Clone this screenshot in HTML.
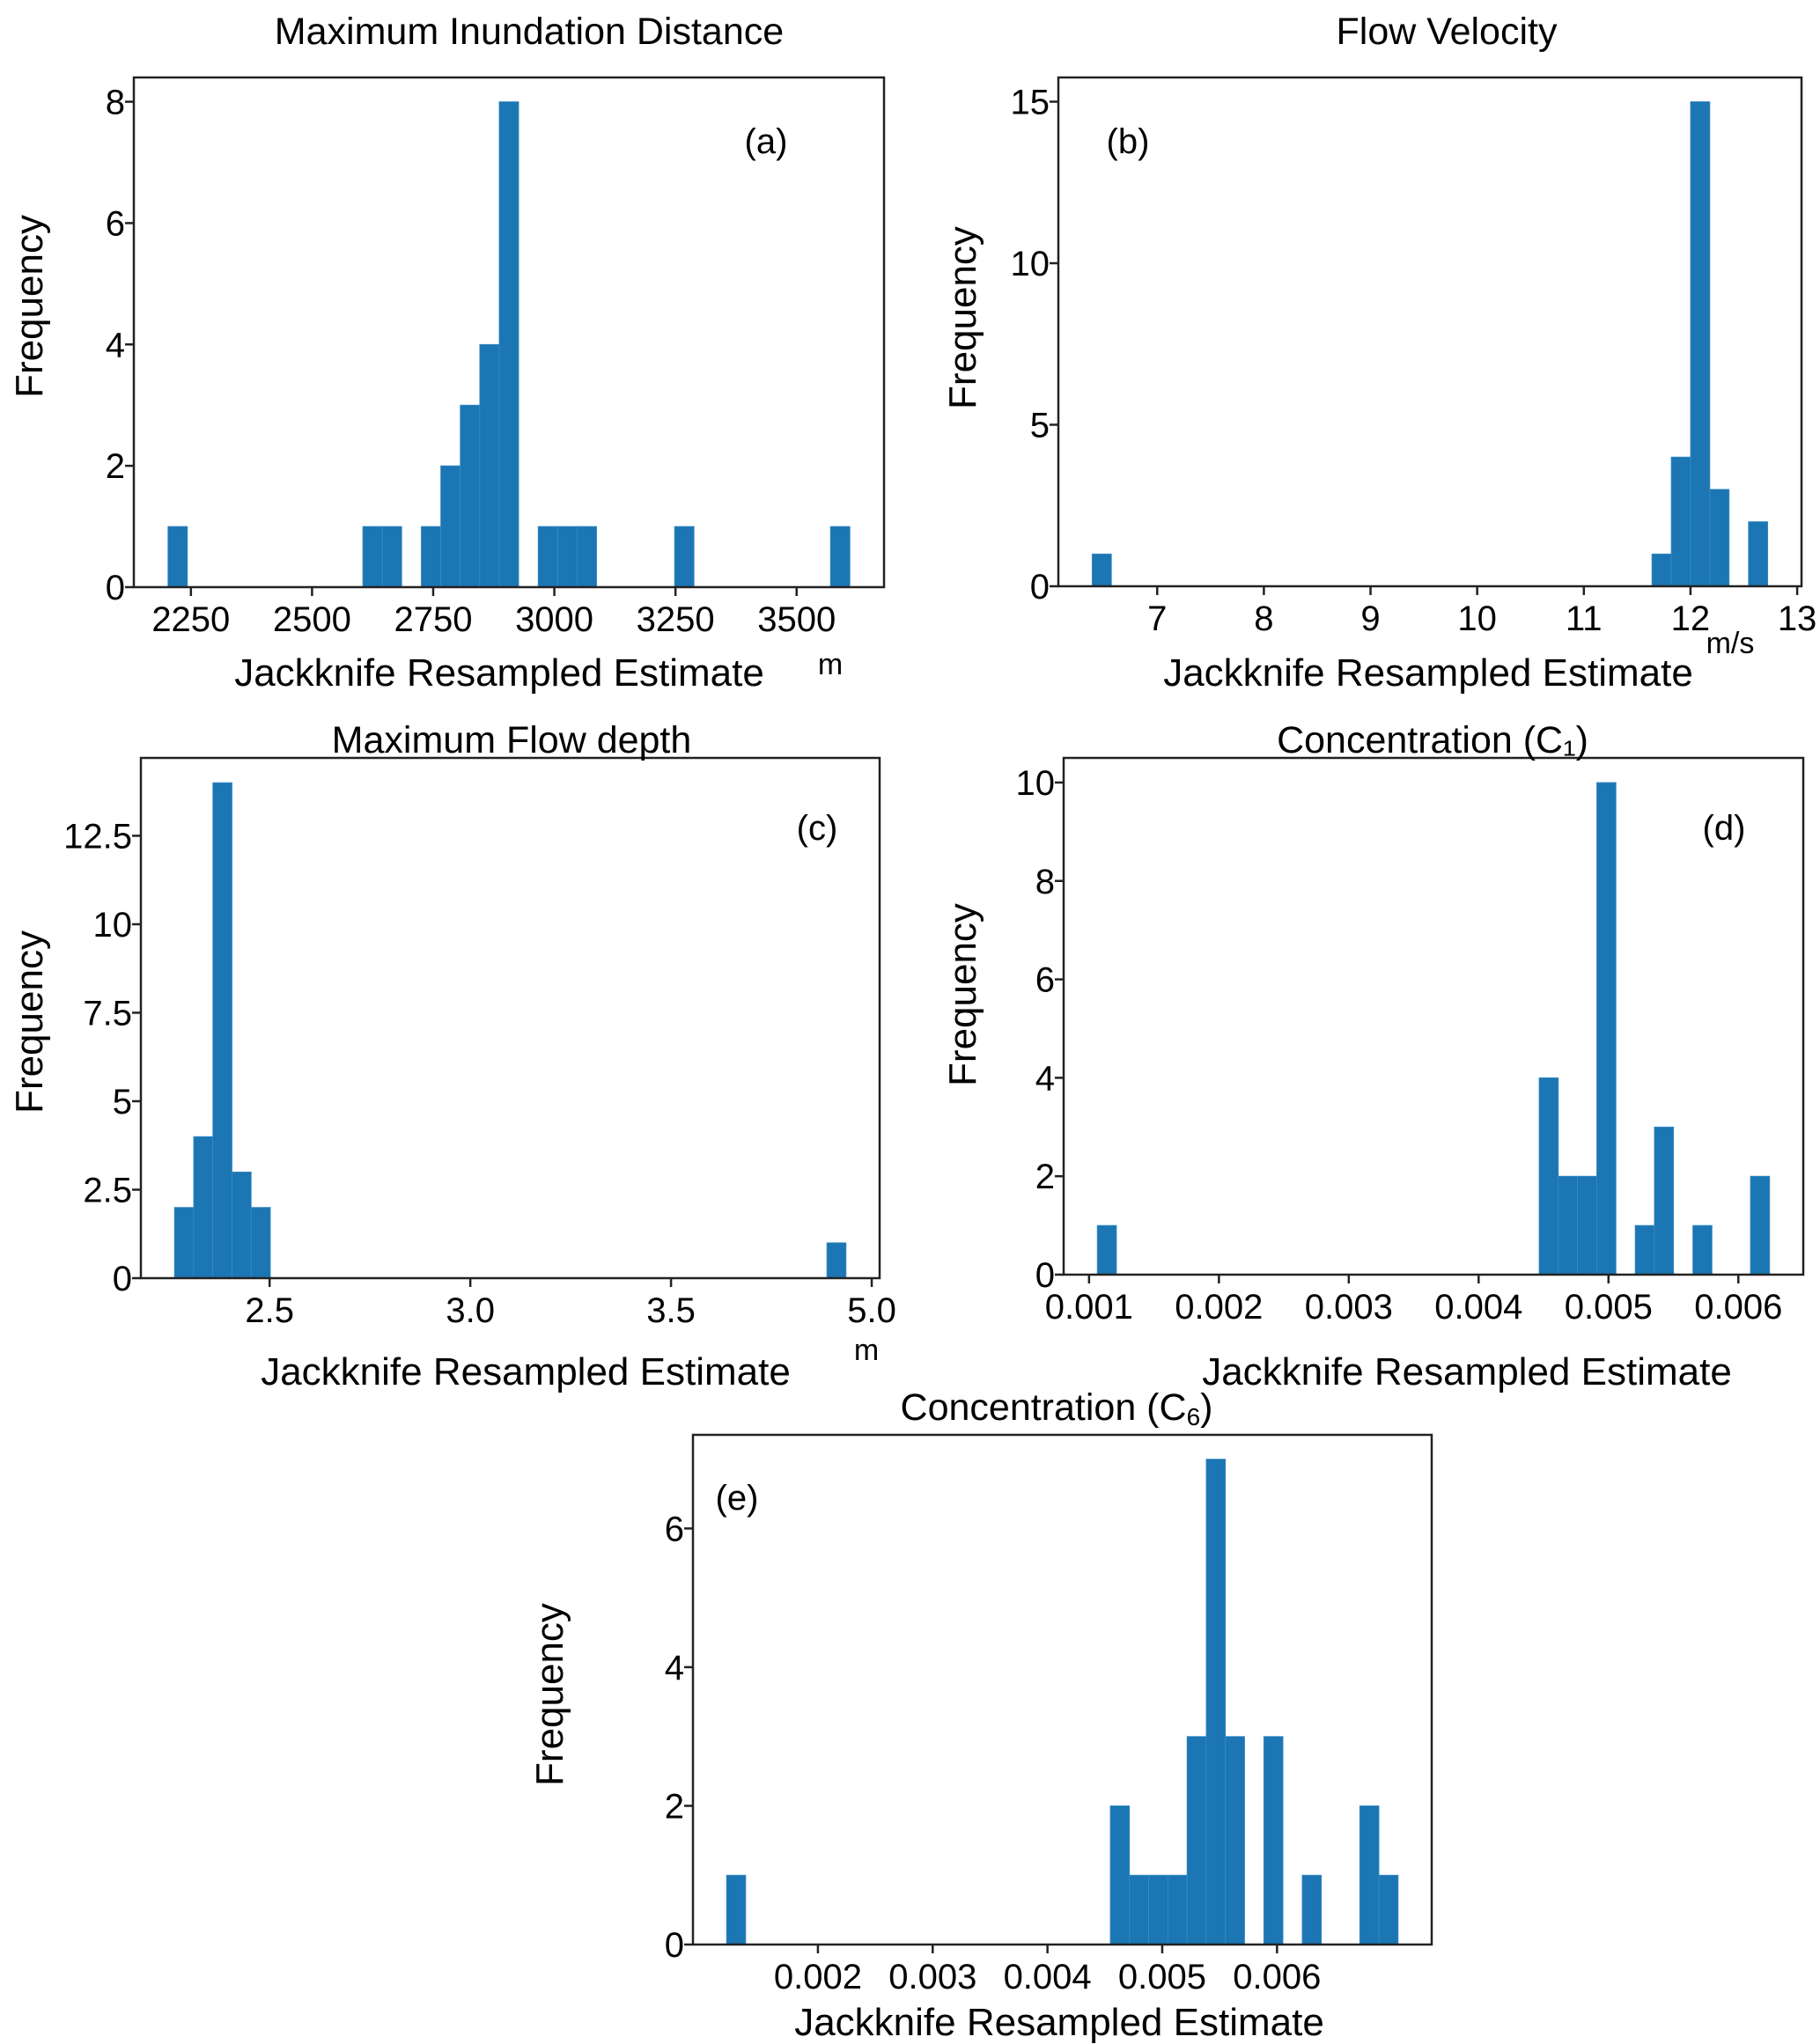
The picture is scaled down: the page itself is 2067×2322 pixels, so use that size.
<!DOCTYPE html>
<html><head><meta charset="utf-8"><style>
html,body{margin:0;padding:0;background:#fff}
svg{display:block}
text{font-family:"Liberation Sans",Arial,sans-serif;fill:#000}
</style></head><body>
<svg id="fig" width="2067" height="2322" viewBox="0 0 2067 2322" xmlns="http://www.w3.org/2000/svg"></svg>
<script>
// Panel (a) Maximum Inundation Distance
const aRange = [2202.6, 3610];
const aCounts = [1,0,0,0,0,0,0,0,0,0,1,1,0,1,2,3,4,8,0,1,1,1,0,0,0,0,1,0,0,0,0,0,0,0,1];
const aXTicks = [2250,2500,2750,3000,3250,3500];
const aXLabels = ["2250","2500","2750","3000","3250","3500"];
const aYTicks = [0,2,4,6,8];
const aYLabels = ["0","2","4","6","8"];
// Panel (b) Flow Velocity
const bRange = [6.39, 12.724];
const bCounts = [1,0,0,0,0,0,0,0,0,0,0,0,0,0,0,0,0,0,0,0,0,0,0,0,0,0,0,0,0,1,4,15,3,0,2];
const bXTicks = [7,8,9,10,11,12,13];
const bXLabels = ["7","8","9","10","11","12","13"];
const bYTicks = [0,5,10,15];
const bYLabels = ["0","5","10","15"];
// Panel (c) Maximum Flow depth
const cRange = [2.263, 3.936];
const cCounts = [2,4,14,3,2,0,0,0,0,0,0,0,0,0,0,0,0,0,0,0,0,0,0,0,0,0,0,0,0,0,0,0,0,0,1];
const cXTicks = [2.5,3.0,3.5,4.0];
const cXLabels = ["2.5","3.0","3.5","5.0"];
const cYTicks = [0,2.5,5,7.5,10,12.5];
const cYLabels = ["0","2.5","5","7.5","10","12.5"];
// Panel (d) Concentration C1
const dRange = [0.0010633, 0.006241];
const dCounts = [1,0,0,0,0,0,0,0,0,0,0,0,0,0,0,0,0,0,0,0,0,0,0,4,2,2,10,0,1,3,0,1,0,0,2];
const dXTicks = [0.001,0.002,0.003,0.004,0.005,0.006];
const dXLabels = ["0.001","0.002","0.003","0.004","0.005","0.006"];
const dYTicks = [0,2,4,6,8,10];
const dYLabels = ["0","2","4","6","8","10"];
// Panel (e) Concentration C6
const eRange = [0.0012036, 0.0070554];
const eCounts = [1,0,0,0,0,0,0,0,0,0,0,0,0,0,0,0,0,0,0,0,2,1,1,1,3,7,3,0,3,0,1,0,0,2,1];
const eXTicks = [0.002,0.003,0.004,0.005,0.006];
const eXLabels = ["0.002","0.003","0.004","0.005","0.006"];
const eYTicks = [0,2,4,6];
const eYLabels = ["0","2","4","6"];

const NS = "http://www.w3.org/2000/svg";
const svg = document.getElementById('fig');
function mk(tag, attrs, parent){
  const e = document.createElementNS(NS, tag);
  for (const k in attrs) e.setAttribute(k, attrs[k]);
  (parent||svg).appendChild(e);
  return e;
}
function txt(s, x, y, size, anchor, parent){
  const t = mk('text', {x:x, y:y, 'font-size':size, 'text-anchor':anchor||'middle'}, parent);
  t.textContent = s;
  return t;
}

function panel(id, box, range, counts, xt, xl, yt, yl){
  const g = mk('g', {});
  
  
  const lo = range[0], hi = range[1], r = hi - lo;
  const x0 = lo - 0.05*r, x1 = hi + 0.05*r;
  const ymax = Math.max(...counts) * 1.05;
  const X = v => box.l + (v - x0) / (x1 - x0) * (box.r - box.l);
  const Y = v => box.b - v / ymax * (box.b - box.t);
  const n = counts.length, w = r / n;
  counts.forEach((c, i) => {
    if (c <= 0) return;
    const xa = X(lo + i*w), xb = X(lo + (i+1)*w);
    const rect = mk('rect', {x:xa, y:Y(c), width:xb-xa, height:Y(0)-Y(c), fill:'#1b76b3', stroke:'#3a8cc4', 'stroke-width':0.8}, g);
    
    
  });
  const frame = mk('rect', {x:box.l, y:box.t, width:box.r-box.l, height:box.b-box.t, fill:'none', stroke:'#222', 'stroke-width':2.5}, g);
  
  
  xt.forEach((v, i) => {
    const x = X(v);
    mk('line', {x1:x, y1:box.b, x2:x, y2:box.b+10, stroke:'#222', 'stroke-width':2.5}, g);
    const t = txt(xl[i], x, box.b + 50, 40, 'middle', g);
    
    
  });
  yt.forEach((v, i) => {
    const y = Y(v);
    mk('line', {x1:box.l-10, y1:y, x2:box.l, y2:y, stroke:'#222', 'stroke-width':2.5}, g);
    const t = txt(yl[i], box.l - 10, y + 14, 40, 'end', g);
    
    
  });
  return g;
}

panel('a', {l:152, r:1004, t:88, b:667}, aRange, aCounts, aXTicks, aXLabels, aYTicks, aYLabels);
panel('b', {l:1202, r:2046, t:88, b:666}, bRange, bCounts, bXTicks, bXLabels, bYTicks, bYLabels);
panel('c', {l:160, r:999, t:861, b:1452}, cRange, cCounts, cXTicks, cXLabels, cYTicks, cYLabels);
panel('d', {l:1208, r:2048, t:861, b:1448}, dRange, dCounts, dXTicks, dXLabels, dYTicks, dYLabels);
panel('e', {l:787, r:1626, t:1630, b:2209}, eRange, eCounts, eXTicks, eXLabels, eYTicks, eYLabels);

function label(s, x, y, size, name, rot, anchor){
  const t = txt(s, x, y, size, anchor||'middle');
  if (rot) t.setAttribute('transform', 'rotate(-90 ' + x + ' ' + y + ')');
  
  
  return t;
}
// titles
label('Maximum Inundation Distance', 601, 50, 43, 'title-a');
label('Flow Velocity', 1643, 50, 43, 'title-b');
label('Maximum Flow depth', 581, 855, 43, 'title-c');
label('Concentration (C\u2081)', 1627, 855, 43, 'title-d');
const te = label('Concentration (C', 1200, 1613, 43, 'title-e');
const sub = mk('tspan', {'font-size':28, dy:6}, te); sub.textContent = '6';
const cl = mk('tspan', {'font-size':43, dy:-6}, te); cl.textContent = ')';
// x labels
label('Jackknife Resampled Estimate', 567, 779, 44, 'x-axis-title-a');
label('m', 943, 766, 34, 'unit-a');
label('Jackknife Resampled Estimate', 1622, 779, 44, 'x-axis-title-b');
label('m/s', 1965, 742, 34, 'unit-b');
label('Jackknife Resampled Estimate', 597, 1573, 44, 'x-axis-title-c');
label('m', 984, 1545, 34, 'unit-c');
label('Jackknife Resampled Estimate', 1666, 1573, 44, 'x-axis-title-d');
label('Jackknife Resampled Estimate', 1203, 2312, 44, 'x-axis-title-e');
// y labels
label('Frequency', 48, 348, 44, 'y-axis-title-a', true);
label('Frequency', 1108, 361, 44, 'y-axis-title-b', true);
label('Frequency', 48, 1161, 44, 'y-axis-title-c', true);
label('Frequency', 1108, 1130, 44, 'y-axis-title-d', true);
label('Frequency', 639, 1925, 44, 'y-axis-title-e', true);
// panel letters
label('(a)', 870, 174, 40, 'panel-label-a');
label('(b)', 1281, 174, 40, 'panel-label-b');
label('(c)', 928, 954, 40, 'panel-label-c');
label('(d)', 1958, 954, 40, 'panel-label-d');
label('(e)', 837, 1715, 40, 'panel-label-e');
</script>
</body></html>
